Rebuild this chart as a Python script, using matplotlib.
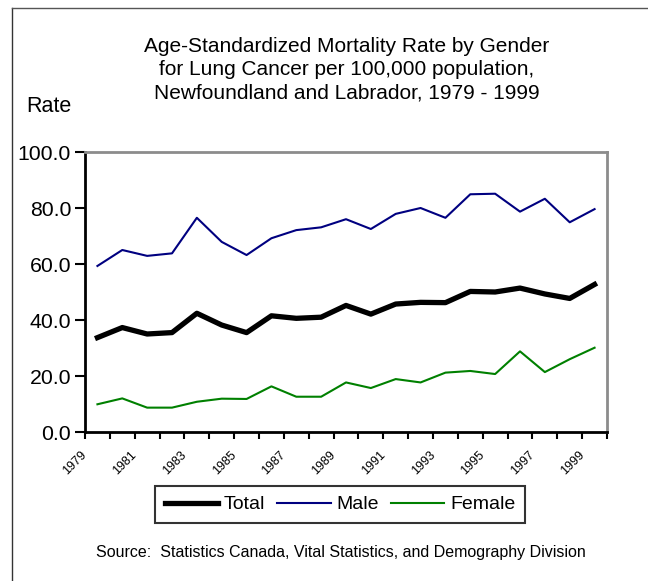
import matplotlib
matplotlib.use("Agg")
import matplotlib.pyplot as plt
import matplotlib.transforms as mtransforms
from matplotlib.lines import Line2D

plt.rcParams['font.family'] = ['Liberation Sans', 'DejaVu Sans']

years = list(range(1979, 2000))
total = [33.7, 37.3, 35.0, 35.5, 42.4, 38.2, 35.5, 41.5, 40.6, 41.0, 45.2,
         42.1, 45.7, 46.3, 46.2, 50.2, 50.0, 51.4, 49.3, 47.7, 52.7]
male = [59.3, 65.0, 62.9, 63.8, 76.5, 67.9, 63.2, 69.2, 72.1, 73.1, 76.0,
        72.5, 77.9, 80.0, 76.5, 84.9, 85.1, 78.7, 83.3, 74.9, 79.6]
female = [9.9, 12.0, 8.7, 8.7, 10.8, 11.9, 11.8, 16.3, 12.6, 12.6, 17.7,
          15.7, 18.9, 17.7, 21.2, 21.8, 20.7, 28.8, 21.4, 26.0, 30.1]
yticks = [0, 20, 40, 60, 80, 100]

W, H = 648, 581
fig = plt.figure(figsize=(W / 100, H / 100), dpi=100)
ax = fig.add_axes([85 / W, 1 - 432 / H, (607 - 85) / W, (432 - 152) / H])

x = [i + 0.5 for i in range(len(years))]
ax.plot(x, total, color='black', lw=3.8, solid_joinstyle='round', label='Total')
ax.plot(x, male, color='#000080', lw=1.5, label='Male')
ax.plot(x, female, color='#008000', lw=1.5, label='Female')

ax.set_xlim(0, len(years))
ax.set_ylim(0, 100)
ax.set_yticks(yticks)
ax.set_yticklabels([f"{v:.1f}" for v in yticks], fontsize=15.3)
ax.tick_params(axis='y', direction='out', length=7, width=1.5, pad=3)

ax.set_xticks(range(len(years) + 1))
ax.set_xticklabels([])
ax.tick_params(axis='x', direction='out', length=5, width=1.5)
offset = mtransforms.ScaledTranslation(-8 / 100, -17 / 100, fig.dpi_scale_trans)
for i, yr in enumerate(years):
    if i % 2 == 0:
        ax.text(i + 0.5, 0, str(yr), rotation=45, ha='right', va='top',
                fontsize=9, transform=ax.get_xaxis_transform() + offset)

for s in ['left', 'bottom']:
    ax.spines[s].set_color('black')
    ax.spines[s].set_linewidth(2)
for s in ['top', 'right']:
    ax.spines[s].set_color('#8c8c8c')
    ax.spines[s].set_linewidth(2)

fig.text(347 / W, 1 - 37 / H,
         "Age-Standardized Mortality Rate by Gender\n"
         "for Lung Cancer per 100,000 population,\n"
         "Newfoundland and Labrador, 1979 - 1999",
         ha='center', va='top', fontsize=15, linespacing=1.28)
fig.text(26 / W, 1 - 107 / H, "Rate", ha='left', va='center', fontsize=15.5)

leg = fig.legend(loc='center', bbox_to_anchor=(340 / W, 1 - 504.5 / H), ncol=3,
                 fontsize=14, frameon=True, fancybox=False, handlelength=2.75,
                 handletextpad=0.3, columnspacing=0.6, borderpad=0.5)
leg.get_frame().set_edgecolor('black')
leg.get_frame().set_linewidth(1.5)

fig.text(341 / W, 1 - 552 / H,
         "Source:  Statistics Canada, Vital Statistics, and Demography Division",
         ha='center', va='center', fontsize=11.5)

fig.add_artist(Line2D([11.5 / W, 11.5 / W], [1 - 7.5 / H, 0], color='#333333', lw=1,
                      transform=fig.transFigure))
fig.add_artist(Line2D([11.5 / W, 1], [1 - 7.5 / H, 1 - 7.5 / H], color='#555555', lw=1,
                      transform=fig.transFigure))

fig.savefig("out.png", dpi=100)
